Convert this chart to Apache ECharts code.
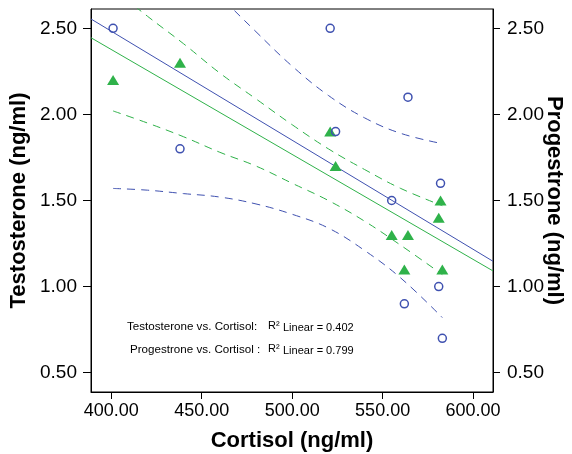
<!DOCTYPE html>
<html>
<head>
<meta charset="utf-8">
<script src="https://cdn.jsdelivr.net/npm/echarts@6/dist/echarts.min.js"></script>
<style>html,body{margin:0;padding:0;background:#fff}#c{width:572px;height:454px}</style>
</head>
<body>
<div id="c"></div>
<script>
// Scatter data
const cortisol     = [401, 438, 521, 524, 555, 562, 564, 581, 582, 583];
const testosterone = [2.5, 1.8, 2.5, 1.9, 1.5, 0.9, 2.1, 1.0, 1.6, 0.7];
const progestrone  = [2.2, 2.3, 1.9, 1.7, 1.3, 1.1, 1.3, 1.4, 1.5, 1.1];

// Fit lines (end points read at the axis edges)
const fitX      = [388.8, 611];
const testoFit  = [2.554, 1.147];
const progFit   = [2.445, 1.091];

// 95% confidence band curves (clipped parts estimated)
const bandX      = [401, 420, 440, 460, 480, 500, 520, 540, 560, 583];
const testoLower = [1.57, 1.56, 1.54, 1.52, 1.48, 1.42, 1.34, 1.21, 1.05, 0.82];
const testoUpper = [3.39, 3.16, 2.92, 2.69, 2.48, 2.28, 2.11, 1.98, 1.89, 1.83];
const progLower  = [2.02, 1.95, 1.87, 1.78, 1.70, 1.60, 1.50, 1.38, 1.24, 1.07];
const progUpper  = [2.73, 2.57, 2.41, 2.24, 2.09, 1.94, 1.80, 1.68, 1.57, 1.47];

// Axis ticks
const xTicks = [400, 450, 500, 550, 600];
const yTicks = [0.5, 1.0, 1.5, 2.0, 2.5];

const BLUE = '#3f51b0';
const GREEN = '#2fb24a';
const FONT = 'Liberation Sans';

const pairs = (xs, ys) => xs.map((x, i) => [x, ys[i]]);

const chart = echarts.init(document.getElementById('c'), null, {renderer: 'canvas'});

const yAxisCommon = {
  type: 'value', min: 0.388, max: 2.612,
  axisLine: {show: true, lineStyle: {color: '#000', width: 1}},
  axisTick: {show: true, length: 8, customValues: yTicks, lineStyle: {color: '#000'}},
  axisLabel: {customValues: yTicks, formatter: v => v.toFixed(2), color: '#000', fontFamily: FONT, fontSize: 19, margin: 14},
  splitLine: {show: false},
  nameLocation: 'middle',
  nameMoveOverlap: false,
  nameTextStyle: {fontFamily: FONT, fontSize: 22, fontWeight: 'bold', color: '#000'}
};

const bandLine = (name, ys, color) => ({
  name, type: 'line', data: pairs(bandX, ys), smooth: 0.4,
  showSymbol: false, symbol: 'none', silent: true, clip: true,
  lineStyle: {color, width: 1, type: [8, 6]}, z: 2
});

chart.setOption({
  animation: false,
  backgroundColor: '#fff',
  grid: {left: 91, right: 79, top: 9, bottom: 62, containLabel: false, outerBoundsMode: 'none',
         show: true, borderColor: '#000', borderWidth: 1, backgroundColor: 'transparent'},
  xAxis: {
    type: 'value', min: 388.8, max: 611,
    axisLine: {show: true, lineStyle: {color: '#000', width: 1}},
    axisTick: {show: true, length: 7, customValues: xTicks, lineStyle: {color: '#000'}},
    axisLabel: {customValues: xTicks, formatter: v => v.toFixed(2), color: '#000', fontFamily: FONT, fontSize: 18, margin: 10},
    splitLine: {show: false},
    name: 'Cortisol (ng/ml)', nameLocation: 'middle', nameGap: 38, nameMoveOverlap: false,
    nameTextStyle: {fontFamily: FONT, fontSize: 22, fontWeight: 'bold', color: '#000'}
  },
  yAxis: [
    Object.assign({}, yAxisCommon, {position: 'left', name: 'Testosterone (ng/ml)', nameGap: 61, nameRotate: 90}),
    Object.assign({}, yAxisCommon, {position: 'right', name: 'Progestrone (ng/ml)', nameGap: 50, nameRotate: -90,
      axisTick: Object.assign({}, yAxisCommon.axisTick, {length: 7})})
  ],
  series: [
    bandLine('T lower', testoLower, BLUE),
    bandLine('T upper', testoUpper, BLUE),
    bandLine('P lower', progLower, GREEN),
    bandLine('P upper', progUpper, GREEN),
    {name: 'T fit', type: 'line', data: pairs(fitX, testoFit), showSymbol: false, symbol: 'none', silent: true,
     lineStyle: {color: BLUE, width: 1}, z: 3},
    {name: 'P fit', type: 'line', data: pairs(fitX, progFit), showSymbol: false, symbol: 'none', silent: true,
     lineStyle: {color: GREEN, width: 1}, z: 3},
    {name: 'Progestrone', type: 'scatter', data: pairs(cortisol, progestrone), symbol: 'triangle', symbolSize: [12, 10],
     itemStyle: {color: GREEN, opacity: 1}, z: 4},
    {name: 'Testosterone', type: 'scatter', data: pairs(cortisol, testosterone), symbol: 'circle', symbolSize: 8,
     itemStyle: {color: 'rgba(255,255,255,0)', borderColor: BLUE, borderWidth: 1.5, opacity: 1}, z: 5}
  ],
  graphic: [
    {type: 'text', left: 127, top: 321, style: {text: 'Testosterone vs. Cortisol:', font: '11.6px "Liberation Sans"', fill: '#000'}},
    {type: 'text', left: 268, top: 320, style: {text: 'R²', font: '11px "Liberation Sans"', fill: '#000'}},
    {type: 'text', left: 283, top: 322, style: {text: 'Linear = 0.402', font: '11px "Liberation Sans"', fill: '#000'}},
    {type: 'text', left: 130, top: 344, style: {text: 'Progestrone vs. Cortisol :', font: '11.6px "Liberation Sans"', fill: '#000'}},
    {type: 'text', left: 268, top: 343, style: {text: 'R²', font: '11px "Liberation Sans"', fill: '#000'}},
    {type: 'text', left: 283, top: 345, style: {text: 'Linear = 0.799', font: '11px "Liberation Sans"', fill: '#000'}}
  ]
});
</script>
</body>
</html>
